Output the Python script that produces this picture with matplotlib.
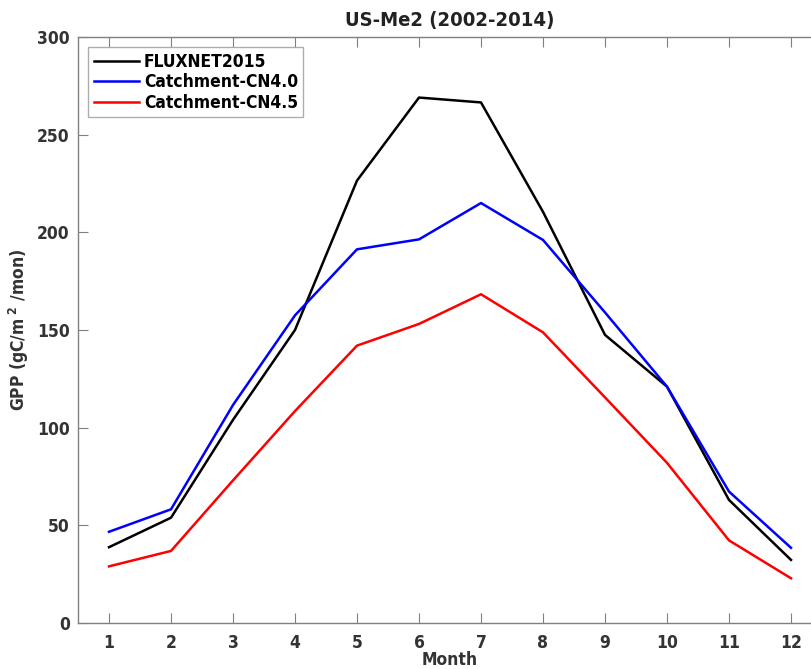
import numpy as np
import matplotlib
matplotlib.use('Agg')
import matplotlib.pyplot as plt

# monthly mean GPP, gC/m2/mon
months = np.arange(1, 13)
fluxnet = [38.8, 53.9, 104.0, 150.0, 226.5, 269.0, 266.5, 210.5, 147.5, 121.0, 63.0, 32.3]
cn40 = [46.7, 58.2, 111.6, 157.5, 191.3, 196.4, 215.0, 196.1, 159.0, 121.0, 67.3, 38.5]
cn45 = [29.0, 36.9, 73.0, 108.5, 142.0, 153.1, 168.3, 148.8, 115.5, 82.0, 42.3, 22.9]

series_names = ['FLUXNET2015', 'Catchment-CN4.0', 'Catchment-CN4.5']
series_colors = ['k', 'b', 'r']

plt.rcParams['font.family'] = ['DejaVu Sans']
plt.rcParams['font.stretch'] = 'condensed'
plt.rcParams['font.weight'] = 'bold'
plt.rcParams['mathtext.fontset'] = 'custom'
plt.rcParams['mathtext.rm'] = 'DejaVu Sans:bold'
plt.rcParams['mathtext.bf'] = 'DejaVu Sans:bold'

fig = plt.figure(figsize=(8.11, 6.69), dpi=100)
# right edge of the box runs past the figure edge
ax = fig.add_axes([78 / 811, 46 / 669, 744 / 811, 586 / 669])

for vals, name, c in zip([fluxnet, cn40, cn45], series_names, series_colors):
    ax.plot(months, vals, color=c, lw=1.8, label=name)

ax.set_xlim(0.5, 12.5)
ax.set_ylim(0, 300)
ax.set_xticks(months)
ax.set_yticks(np.arange(0, 301, 50))

gray = '#808080'
for s in ax.spines.values():
    s.set_color(gray)
    s.set_linewidth(1.0)
ax.spines['right'].set_visible(False)
ax.tick_params(direction='in', length=7, width=0.8, color=gray,
               labelsize=12.5, labelcolor='#333333', top=True, right=True)
ax.tick_params(axis='y', pad=6)
ax.tick_params(axis='x', pad=8)

ax.set_title('US-Me2 (2002-2014)', fontsize=14.5, fontweight='bold', color='#222222', pad=8)
ax.set_xlabel('Month', fontsize=12.5, fontweight='bold', color='#333333', labelpad=-1)
ax.set_ylabel('GPP (gC/m$^{\\ 2}$ /mon)', fontsize=12.5, fontweight='bold', color='#333333', labelpad=4)

leg = ax.legend(loc='upper left', fontsize=12.5, frameon=True, fancybox=False,
                handlelength=2.6, handletextpad=0.3, borderpad=0.3, labelspacing=0.15,
                borderaxespad=0.6)
leg.get_frame().set_edgecolor('#999999')
leg.get_frame().set_linewidth(1.0)
for t in leg.get_texts():
    t.set_color('k')

fig.savefig('out.png', dpi=100)
